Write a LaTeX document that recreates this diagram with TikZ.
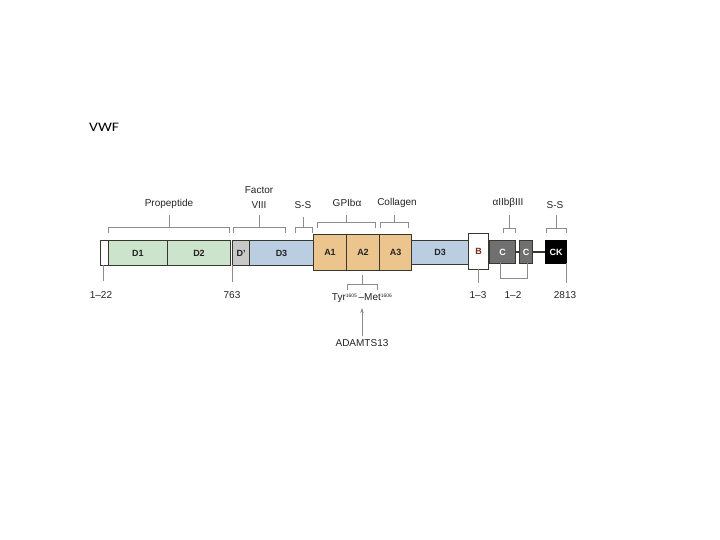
\documentclass[tikz,border=0pt]{standalone}
\usepackage{fontspec}
\setmainfont{Liberation Sans}
\newfontfamily\calfont{Carlito}
\usetikzlibrary{arrows.meta}
\definecolor{dgreen}{RGB}{204,227,204}
\definecolor{dblue}{RGB}{186,205,225}
\definecolor{aorange}{RGB}{236,197,142}
\definecolor{dpgrey}{RGB}{200,200,200}
\definecolor{cgrey}{RGB}{112,112,112}
\definecolor{edgec}{RGB}{55,55,48}
\definecolor{brk}{RGB}{140,140,140}
\definecolor{txt}{RGB}{35,35,35}
\tikzset{
  dom/.style={draw=edgec, line width=1pt, anchor=north west, inner sep=0pt,
    font=\bfseries\fontsize{9}{10}\selectfont, text=txt},
  brack/.style={draw=brk, line width=0.8pt},
  lbl/.style={font=\fontsize{10}{11}\selectfont, text=txt, inner sep=0pt},
}
\begin{document}
\begin{tikzpicture}[x=1pt,y=-1pt]
\useasboundingbox (0,0) rectangle (720,540);
\node[font=\calfont\fontsize{13}{15}\selectfont, anchor=west, xscale=1.2, inner sep=0pt] (vwf) at (89,127) {VWF};
% domain boxes
\node[dom, fill=white, minimum width=8pt, minimum height=25pt] (w0) at (100,240) {};
\node[dom, fill=dgreen, minimum width=59pt, minimum height=25pt] (d1) at (108,240) {D1};
\node[dom, fill=dgreen, minimum width=63pt, minimum height=25pt] (d2) at (167,240) {D2};
\node[dom, fill=dpgrey, minimum width=17pt, minimum height=25pt] (dp) at (232,240) {D'};
\node[dom, fill=dblue, minimum width=64pt, minimum height=25pt] (d3a) at (249,240) {D3};
\node[dom, fill=aorange, minimum width=33pt, minimum height=36pt] (a1) at (313,234) {A1};
\node[dom, fill=aorange, minimum width=33pt, minimum height=36pt] (a2) at (346,234) {A2};
\node[dom, fill=aorange, minimum width=32pt, minimum height=36pt] (a3) at (379,234) {A3};
\node[dom, fill=dblue, minimum width=57pt, minimum height=24pt] (d3b) at (411,240) {D3};
\node[dom, fill=white, minimum width=20pt, minimum height=36pt, text={rgb,255:red,120;green,40;blue,20}] (b) at (468,233) {B};
\node[dom, fill=cgrey, minimum width=26pt, minimum height=23pt, text=white] (c1) at (489,240) {C};
\node[dom, fill=cgrey, minimum width=13pt, minimum height=23pt, text=white] (c2) at (519,240) {C};
\node[dom, fill=black, draw=black, minimum width=21pt, minimum height=23pt, text=white] (ck) at (545,240) {CK};
\draw[edgec, line width=1.2pt] (c1.east) -- (c2.west);
\draw[edgec, line width=1.2pt] (c2.east) -- (ck.west);
% brackets above
\draw[brack] (108,233) -- (108,227) -- (229,227) -- (229,233);
\draw[brack] (169,227) -- (169,215);
\node[lbl] (prop) at (169,204) {Propeptide};
\draw[brack] (233,233) -- (233,227) -- (285,227) -- (285,233);
\draw[brack] (259,227) -- (259,215);
\node[lbl] (fac) at (259,190) {Factor};
\node[lbl] (viii) at (259,205) {VIII};
\draw[brack] (295,233) -- (295,227) -- (312,227) -- (312,233);
\draw[brack] (303,227) -- (303,217);
\node[lbl] (ss1) at (303,205) {S-S};
\draw[brack] (317,228) -- (317,222) -- (375,222) -- (375,228);
\draw[brack] (346,222) -- (346,215);
\node[lbl] (gp) at (347,203) {GPIbα};
\draw[brack] (380,228) -- (380,222) -- (408,222) -- (408,228);
\draw[brack] (394,222) -- (394,215);
\node[lbl] (col) at (397,203) {Collagen};
\draw[brack] (503,233) -- (503,228) -- (515,228) -- (515,233);
\draw[brack] (509,228) -- (509,215);
\node[lbl] (ab) at (508,203) {αIIbβIII};
\draw[brack] (546,233) -- (546,228) -- (566,228) -- (566,233);
\draw[brack] (556,228) -- (556,215);
\node[lbl] (ss2) at (555,205) {S-S};
% below
\draw[brack] (103,265) -- (103,281);
\node[lbl] (n122) at (101,295) {1--22};
\draw[brack] (232,265) -- (232,282);
\node[lbl] (n763) at (232,295) {763};
\draw[brack] (362,275) -- (362,284);
\draw[brack] (347,290) -- (347,284) -- (377,284) -- (377,290);
\node[lbl] (tyr) at (362,298) {Tyr\raisebox{0.5ex}{\fontsize{5}{6}\selectfont 1605}\,--Met\raisebox{0.5ex}{\fontsize{5}{6}\selectfont 1606}};
\node[lbl] (adam) at (362,343) {ADAMTS13};
\draw[brk, line width=0.8pt, -{Stealth[length=5pt,width=3.5pt]}] (adam.north) ++(0,-3) -- (362,308);
\draw[brack] (478,269) -- (478,283);
\node[lbl] (n13) at (478,295) {1--3};
\draw[brack] (500,263) -- (500,278) -- (527,278) -- (527,263);
\node[lbl] (n12) at (513,295) {1--2};
\draw[brack] (566,263) -- (566,283);
\node[lbl] (n2813) at (565,295) {2813};
\end{tikzpicture}
\end{document}
